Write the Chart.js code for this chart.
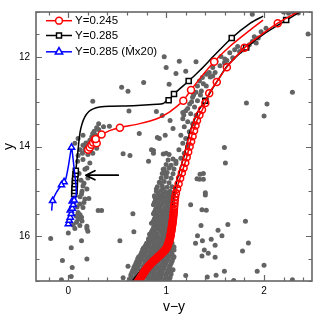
<!DOCTYPE html>
<html><head><meta charset="utf-8">
<script src="https://cdn.jsdelivr.net/npm/chart.js@4.4.0/dist/chart.umd.min.js"></script>
<style>html,body{margin:0;padding:0;background:#fff}#wrap{width:332px;height:320px}</style>
</head><body><div id="wrap"><canvas id="c" width="332" height="320"></canvas></div>
<script>
// ---------- data ----------
const xTicks = [-0.2,0,0.2,0.4,0.6,0.8,1,1.2,1.4,1.6,1.8,2,2.2,2.4];
const xTickLabels = [0,1,2];
const yTicks = [11,11.5,12,12.5,13,13.5,14,14.5,15,15.5,16,16.5,17];
const yTickLabels = [12,14,16];
const legendLabels = ['Y=0.245','Y=0.285','Y=0.285 (\u1E40x20)'];

const obsStars = [
 [0.98,12.0],[0.545,12.68],[0.61,12.77],[0.77,12.57],[0.25,12.99],[0.62,13.21],[0.96,13.31],[0.90,13.22],
 [0.31,13.49],[0.36,13.56],[0.42,13.55],[0.29,13.58],[0.265,13.66],[0.28,13.75],[0.24,13.78],[0.22,13.86],[0.18,13.92],[0.15,13.97],[0.067,13.93],[0.12,14.07],[0.145,14.15],[0.25,14.15],[0.17,14.0],[0.10,14.2],[0.095,14.33],[0.2,14.1],[0.23,14.08],[0.31,13.62],
 [0.725,13.71],[0.91,13.80],[0.99,13.75],[0.87,14.09],[0.97,14.17],[0.63,14.2],[0.82,14.33],[0.56,14.16],
 [0.10,13.82],[0.15,13.75],[0.19,13.93],[0.17,14.07],[0.20,14.18],[0.15,14.29],[0.22,14.37],[0.17,14.51],[0.19,14.48],[0.20,14.70],[0.11,14.6],[0.13,14.75],[0.16,14.82],[0.15,14.88],[0.19,14.95],[0.14,15.0],[0.135,15.06],[0.12,15.12],[0.17,15.17],[0.21,15.16],[0.16,15.25],[0.118,15.28],[0.15,15.36],[0.09,15.35],[0.10,15.47],[0.12,15.52],[0.08,15.55],[0.135,15.58],[0.1,15.62],[0.14,15.66],[0.084,15.69],[0.118,15.76],[0.05,15.75],[0.067,15.83],[0.19,15.83],[0.305,15.43],[0.34,15.43],[0.29,14.04],[0.25,13.71],
 [-0.18,16.05],[0.0,15.93],[-0.07,16.97],[0.03,16.9],[0.04,16.7],[-0.06,16.54],[0.03,16.26],[0.135,16.1],[0.19,16.51],[0.19,15.78],[0.2,15.89],[0.66,15.5],[0.527,16.1],[0.67,15.9],[0.85,15.71],[0.61,16.67],[0.56,16.93],[0.83,16.05],
 [1.04,13.42],[1.17,13.24],[1.07,13.6],[0.93,13.82],[0.85,14.07],[0.87,14.15],[1.0,14.15],[0.97,14.51],[0.99,14.59],[1.0,14.66],[0.94,14.81],[0.97,14.95],[0.90,14.95],[0.955,15.1],[1.04,15.06],[0.885,15.14],[1.346,14.62],[1.38,14.73],[1.4,15.03],
 [0.91,14.9],[0.96,14.88],[1.01,14.91],[1.06,14.9],[0.93,14.8],[0.98,14.78],[1.03,14.81],[0.95,14.7],[1.0,14.68],[1.05,14.71],[0.96,14.6],[1.01,14.58],[1.07,14.61],[0.98,14.5],[1.03,14.48],[1.08,14.5],[1.0,14.4],[1.05,14.42],[1.1,14.38],[1.02,14.3],[1.07,14.28],
 [1.605,14.37],[1.315,14.72],[1.34,14.73],[1.38,14.60],[1.40,15.08],[1.25,15.30],[1.366,15.41],[1.41,15.42],[1.356,15.76],[1.63,15.74],[1.81,15.67],[1.53,15.87],[1.32,15.99],[1.57,15.99],[1.46,16.07],[1.37,16.10],[1.30,16.16],[1.84,16.15],[1.50,16.20],[1.39,16.31],[1.43,16.38],[1.78,16.33],[1.366,16.44],[1.50,16.47],[1.595,16.78],[1.93,16.78],[2.0,16.65],[1.51,16.87],[1.42,16.91],[1.20,16.88],[1.69,16.99],[2.29,16.97],[1.595,14.02],
 [2.2,11.0],[2.25,11.03],[2.3,11.0],[2.35,11.02],[1.88,11.05],[2.45,11.49],[2.02,11.36],[1.97,11.44],[1.94,11.58],[1.90,11.55],[1.88,11.66],[1.85,11.73],[1.92,11.69],[1.73,11.77],[1.70,11.84],[1.75,11.88],[1.65,11.91],[1.68,12.02],[1.56,11.99],[1.595,12.13],[1.51,12.10],[1.476,12.24],[1.44,12.35],[1.41,12.39],[1.476,12.43],[1.37,12.46],[1.34,12.54],[1.32,12.65],[1.41,12.65],[1.36,12.76],[1.305,12.79],[1.27,12.90],[1.32,12.98],[1.24,13.05],[1.29,13.12],[1.20,13.20],[1.25,13.27],[1.305,13.31],[1.17,13.38],[1.22,13.45],[1.27,13.49],[1.185,13.56],[1.236,13.67],[1.15,13.75],[1.20,13.82],[1.17,13.93],[1.22,14.0],[1.13,14.07],[1.185,14.15],[1.03,14.18],[1.15,14.26],[1.10,14.33],[1.134,12.10],[1.305,12.11],[1.10,12.37],[1.20,12.32],[1.03,12.61],[1.0,12.24],[2.29,12.79],[1.82,13.03],[2.03,13.05],[2.0,13.32],
 [1.55,12.2],[1.6,12.05],[1.45,12.45],[1.5,12.35],[1.38,12.6],[1.28,12.85],[1.35,12.85],[1.26,13.0],[1.22,13.15],[1.18,13.3],[1.78,11.85],[1.83,11.78],[1.62,12.08],
 [0.90,15.0],[0.95,14.98],[1.0,15.02],[1.04,15.0],
 [0.92,15.05],[0.97,15.06],[1.02,15.04],[1.06,15.05],
 [0.88,15.1],[0.93,15.12],[0.97,15.08],[1.02,15.11],[1.07,15.09],
 [0.90,15.16],[0.95,15.15],[0.99,15.14],[1.04,15.16],
 [0.89,15.21],[0.94,15.19],[0.99,15.22],[1.03,15.2],
 [0.88,15.25],[0.92,15.26],[0.97,15.24],[1.01,15.26],[1.05,15.25],
 [0.87,15.3],[0.92,15.32],[0.96,15.29],[1.01,15.31],[1.06,15.3],
 [0.90,15.36],[0.94,15.34],[0.99,15.36],[1.03,15.35],
 [0.89,15.41],[0.94,15.39],[0.98,15.42],[1.03,15.4],
 [0.88,15.46],[0.92,15.44],[0.96,15.46],[1.01,15.45],[1.05,15.44],
 [0.87,15.5],[0.91,15.52],[0.96,15.49],[1.0,15.51],[1.05,15.5],
 [0.89,15.56],[0.94,15.54],[0.98,15.56],[1.03,15.55],
 [0.88,15.61],[0.93,15.59],[0.97,15.62],[1.02,15.6],
 [0.87,15.66],[0.91,15.64],[0.95,15.66],[1.0,15.65],[1.04,15.64],
 [0.86,15.7],[0.9,15.72],[0.95,15.69],[0.99,15.71],[1.04,15.7],
 [0.88,15.76],[0.93,15.74],[0.97,15.76],[1.02,15.75],
 [0.87,15.81],[0.92,15.79],[0.96,15.82],[1.01,15.8],[1.06,15.79],
 [0.86,15.86],[0.9,15.84],[0.94,15.86],[0.99,15.85],[1.04,15.84],
 [0.85,15.9],[0.89,15.92],[0.94,15.89],[0.98,15.91],[1.03,15.9],
 [0.83,15.96],[0.87,15.94],[0.91,15.96],[0.96,15.95],[1.0,15.94],[1.05,15.96],
 [0.84,16.01],[0.88,15.99],[0.92,16.02],[0.97,16.0],[1.01,16.01],[1.06,15.99],
 [0.82,16.06],[0.86,16.04],[0.9,16.06],[0.95,16.05],[0.99,16.04],[1.03,16.06],
 [0.82,16.1],[0.86,16.12],[0.9,16.09],[0.95,16.11],[0.99,16.1],[1.04,16.12],
 [0.80,16.16],[0.84,16.14],[0.88,16.16],[0.93,16.15],[0.97,16.14],[1.02,16.16],[1.06,16.15],
 [0.79,16.2],[0.83,16.22],[0.88,16.19],[0.92,16.21],[0.97,16.2],[1.01,16.22],[1.06,16.2],
 [0.77,16.26],[0.81,16.24],[0.86,16.26],[0.9,16.25],[0.95,16.24],[0.99,16.26],[1.04,16.25],[1.08,16.24],
 [0.76,16.3],[0.8,16.32],[0.85,16.29],[0.89,16.31],[0.94,16.3],[0.98,16.32],[1.03,16.3],[1.08,16.31],
 [0.75,16.36],[0.79,16.34],[0.83,16.36],[0.88,16.35],[0.92,16.34],[0.97,16.36],[1.01,16.35],[1.05,16.34],
 [0.74,16.41],[0.78,16.39],[0.83,16.42],[0.87,16.4],[0.92,16.41],[0.96,16.39],[1.01,16.42],[1.06,16.4],
 [0.72,16.46],[0.76,16.44],[0.81,16.46],[0.85,16.45],[0.9,16.44],[0.94,16.46],[0.99,16.45],[1.03,16.44],[1.08,16.46],
 [0.71,16.5],[0.75,16.52],[0.8,16.49],[0.84,16.51],[0.89,16.5],[0.93,16.52],[0.98,16.49],[1.02,16.51],[1.07,16.5],
 [0.70,16.56],[0.74,16.54],[0.79,16.56],[0.83,16.55],[0.88,16.54],[0.92,16.56],[0.97,16.55],[1.01,16.54],[1.06,16.56],
 [0.69,16.61],[0.73,16.59],[0.78,16.62],[0.82,16.6],[0.87,16.61],[0.91,16.59],[0.96,16.62],[1.0,16.6],[1.05,16.61],
 [0.68,16.66],[0.72,16.64],[0.77,16.66],[0.81,16.65],[0.86,16.64],[0.9,16.66],[0.95,16.65],[0.99,16.64],[1.04,16.66],
 [0.67,16.7],[0.71,16.72],[0.76,16.69],[0.8,16.71],[0.85,16.7],[0.89,16.72],[0.94,16.69],[0.98,16.71],[1.03,16.7],
 [0.66,16.76],[0.7,16.74],[0.75,16.76],[0.79,16.75],[0.84,16.74],[0.88,16.76],[0.93,16.75],[0.97,16.74],[1.02,16.76],[1.07,16.75],
 [0.65,16.81],[0.69,16.79],[0.74,16.82],[0.78,16.8],[0.83,16.81],[0.87,16.79],[0.92,16.82],[0.96,16.8],[1.01,16.81],[1.05,16.79],
 [0.64,16.86],[0.69,16.84],[0.73,16.86],[0.78,16.85],[0.82,16.84],[0.87,16.86],[0.91,16.85],[0.96,16.84],[1.0,16.86],[1.05,16.85],
 [0.64,16.9],[0.68,16.92],[0.73,16.89],[0.77,16.91],[0.82,16.9],[0.86,16.92],[0.91,16.89],[0.95,16.91],[1.0,16.9],[1.04,16.92],
 [0.63,16.96],[0.67,16.94],[0.72,16.96],[0.76,16.95],[0.81,16.94],[0.85,16.96],[0.9,16.95],[0.94,16.94],[0.99,16.96],[1.03,16.95],
 [0.63,17.0],[0.67,16.98],[0.72,17.0],[0.76,16.99],[0.81,17.0],[0.85,16.98],[0.9,17.0],[0.94,16.99],[0.99,17.0],[1.03,16.98]
];

// isochrones (Y=0.245 red, Y=0.285 black)
const isoRedLine = [[0.70,17.05],[0.71,17.0],[0.766,16.82],[0.80,16.72],[0.85,16.6],[0.937,16.42],[1.005,16.27],[1.04,16.05],[1.06,15.76],[1.08,15.39],[1.097,15.03],[1.17,14.52],[1.215,14.2],[1.26,13.77],[1.30,13.5],[1.34,13.3],[1.37,13.18],[1.44,12.81],[1.517,12.56],[1.62,12.23],[1.80,11.80],[1.97,11.51],[2.14,11.25],[2.37,10.97],[2.45,10.88]];
const isoRedMarks = [[2.14,11.25],[1.80,11.80],[1.62,12.23],[1.517,12.56],[1.44,12.81],[1.40,13.03],[1.366,13.18],[1.34,13.30],[1.315,13.42],[1.30,13.53],[1.285,13.65],[1.27,13.77],[1.255,13.89],[1.24,14.0],[1.225,14.12],[1.21,14.24],[1.195,14.36],[1.178,14.48],[1.16,14.59],[1.143,14.71],[1.127,14.83],[1.112,14.94],[1.10,15.04],[1.092,15.12],
 [1.088,15.20],[1.085,15.27],[1.082,15.33],[1.08,15.39],[1.078,15.44],[1.076,15.49],[1.074,15.53],[1.072,15.57],[1.070,15.61],[1.068,15.65],[1.066,15.68],[1.064,15.71],[1.062,15.74],[1.06,15.77],[1.058,15.80],[1.056,15.83],[1.054,15.86],[1.052,15.89],[1.049,15.92],[1.047,15.95],[1.045,15.98],[1.042,16.01],[1.040,16.04],[1.036,16.07],[1.032,16.10],[1.028,16.13],[1.023,16.16],[1.018,16.19],[1.013,16.22],[1.008,16.25],[1.003,16.27],[0.996,16.29],[0.988,16.31],[0.980,16.33],[0.971,16.35],[0.962,16.37],[0.953,16.39],[0.944,16.41],[0.934,16.43],[0.924,16.45],[0.914,16.47],[0.904,16.49],[0.894,16.51],[0.884,16.53],[0.874,16.55],[0.864,16.57],[0.855,16.59],[0.846,16.61],[0.837,16.63],[0.829,16.65],[0.821,16.67],[0.813,16.69],[0.805,16.71],[0.798,16.73],[0.791,16.75],[0.785,16.77],[0.779,16.79],[0.773,16.81],[0.767,16.83],[0.761,16.85],[0.755,16.87],[0.749,16.89],[0.743,16.91],[0.737,16.93],[0.731,16.95],[0.725,16.97],[0.719,16.99],[0.713,17.01],[0.707,17.03],[0.701,17.05]];
const isoBlackLine = [[0.645,17.05],[0.655,17.0],[0.72,16.82],[0.77,16.7],[0.834,16.6],[0.92,16.42],[0.988,16.27],[1.02,16.05],[1.045,15.76],[1.06,15.39],[1.08,15.03],[1.14,14.52],[1.185,14.2],[1.23,13.77],[1.27,13.5],[1.31,13.3],[1.335,13.18],[1.40,12.98],[1.47,12.72],[1.54,12.48],[1.63,12.19],[1.82,11.79],[2.0,11.49],[2.23,11.18],[2.42,10.93],[2.5,10.83]];
const isoBlackMarks = [[1.40,12.98],[1.817,11.79],[2.226,11.18]];

// horizontal-branch tracks
const hbRedLine = [[0.203,14.07],[0.22,14.02],[0.237,13.96],[0.254,13.91],[0.27,13.85],[0.30,13.78],[0.34,13.73],[0.43,13.64],[0.527,13.58],[0.73,13.49],[0.905,13.38],[1.04,13.22],[1.14,13.05],[1.175,12.98],[1.254,12.74],[1.346,12.48],[1.49,12.11],[1.65,11.77],[1.86,11.40],[1.99,11.18]];
const hbRedMarks = [[0.203,14.07],[0.22,14.02],[0.237,13.96],[0.254,13.91],[0.27,13.85],[0.29,13.93],[0.28,13.83],[0.34,13.73],[0.527,13.58],[1.175,12.98],[1.254,12.74],[1.49,12.11]];
const hbBlackLine = [[0.06,15.06],[0.063,14.99],[0.063,14.92],[0.067,14.84],[0.067,14.77],[0.07,14.70],[0.074,14.62],[0.077,14.54],[0.088,14.3],[0.10,14.07],[0.118,13.71],[0.14,13.5],[0.169,13.34],[0.21,13.22],[0.254,13.16],[0.32,13.12],[0.425,13.10],[0.663,13.09],[0.905,13.06],[0.97,13.04],[1.005,12.98],[1.025,12.97],[1.08,12.83],[1.23,12.54],[1.346,12.30],[1.50,11.95],[1.67,11.58],[1.86,11.25],[1.99,11.09]];
const hbBlackMarks = [[0.06,15.06],[0.063,14.99],[0.063,14.92],[0.067,14.84],[0.067,14.77],[0.07,14.70],[0.074,14.62],[0.077,14.54],[1.025,12.97],[1.08,12.83],[1.23,12.54],[1.67,11.58]];
const hbBlueLine = [[0.0,15.73],[0.01,15.65],[0.03,15.5],[0.05,15.3],[0.06,15.2],[0.04,15.35],[0.02,15.55],[0.0,15.65],[0.02,15.6],[0.04,15.45],[0.06,15.28],[0.08,15.1],[0.08,14.9],[0.065,14.6],[0.05,14.3],[0.033,14.02],[0.0,14.45],[-0.025,14.72],[-0.043,14.79],[-0.07,14.86],[-0.12,15.02],[-0.16,15.21],[-0.17,15.43]];
const hbBlueMarks = [[0.0,15.73],[0.01,15.65],[0.02,15.58],[0.03,15.5],[0.02,15.42],[0.04,15.38],[0.05,15.3],[0.04,15.22],[0.06,15.2],[0.033,14.02],[-0.043,14.79],[-0.07,14.86],[-0.16,15.21]];

const arrowFrom = [0.51,14.64];
const arrowTo = [0.18,14.64];

// ---------- chart ----------
const FONT = '"Liberation Sans", Arial, Helvetica, sans-serif';
const AXIS = '#666666';
const RED = '#ff0000', BLACK = '#000000', BLUE = '#0000ff', GREY = '#636363';
const xy = a => a.map(p => ({x:p[0], y:p[1]}));
const near = (v, list) => list.some(t => Math.abs(t - v) < 1e-6);

function lineDS(data, color, order, tension){
  return {data: xy(data), showLine:true, borderColor:color, borderWidth:1.5, pointRadius:0,
          tension: tension, fill:false, order: order, clip: 0};
}
function markDS(data, color, style, r, order, fillCol){
  return {data: xy(data), showLine:false, pointStyle:style, pointRadius:r, pointBorderWidth:1.5,
          pointBorderColor:color, pointBackgroundColor:fillCol, order: order, clip: 0};
}

const decor = {
  id:'decor',
  afterDraw(chart){
    const {ctx, chartArea:a, scales:{x, y}} = chart;
    ctx.save();
    ctx.strokeStyle = AXIS; ctx.lineWidth = 1.6;
    ctx.strokeRect(a.left, a.top, a.right - a.left, a.bottom - a.top);
    ctx.lineWidth = 1.2; ctx.beginPath();
    x.ticks.forEach(t => {
      const px = Math.round(x.getPixelForValue(t.value)) + 0.5;
      const L = near(t.value, xTickLabels) ? 6 : 3.5;
      ctx.moveTo(px, a.bottom); ctx.lineTo(px, a.bottom - L);
      ctx.moveTo(px, a.top); ctx.lineTo(px, a.top + L);
    });
    y.ticks.forEach(t => {
      const py = Math.round(y.getPixelForValue(t.value)) + 0.5;
      const L = near(t.value, yTickLabels) ? 6 : 3.5;
      ctx.moveTo(a.left, py); ctx.lineTo(a.left + L, py);
      ctx.moveTo(a.right, py); ctx.lineTo(a.right - L, py);
    });
    ctx.stroke();
    // arrow
    const x0 = x.getPixelForValue(arrowFrom[0]), y0 = y.getPixelForValue(arrowFrom[1]);
    const x1 = x.getPixelForValue(arrowTo[0]), y1 = y.getPixelForValue(arrowTo[1]);
    ctx.strokeStyle = BLACK; ctx.lineWidth = 1.8; ctx.lineCap = 'round'; ctx.lineJoin = 'round';
    ctx.beginPath(); ctx.moveTo(x0, y0); ctx.lineTo(x1, y1);
    ctx.moveTo(x1 + 9, y1 - 4.5); ctx.lineTo(x1, y1); ctx.lineTo(x1 + 9, y1 + 4.5);
    ctx.stroke();
    // legend
    const rows = [
      {c:RED, s:'circle', y:20.7},
      {c:BLACK, s:'rect', y:35.5},
      {c:BLUE, s:'triangle', y:51.8}
    ];
    ctx.lineCap = 'butt'; ctx.lineJoin = 'miter';
    ctx.font = '11.5px ' + FONT; ctx.textBaseline = 'middle'; ctx.textAlign = 'left';
    rows.forEach((r, i) => {
      const mx = a.left + 23;
      ctx.strokeStyle = r.c; ctx.lineWidth = 1.5;
      ctx.beginPath(); ctx.moveTo(a.left + 10, r.y); ctx.lineTo(a.left + 36, r.y); ctx.stroke();
      ctx.fillStyle = '#ffffff';
      ctx.beginPath();
      if (r.s === 'circle') ctx.arc(mx, r.y, 3.4, 0, Math.PI*2);
      else if (r.s === 'rect') ctx.rect(mx - 2.5, r.y - 2.5, 5, 5);
      else { ctx.moveTo(mx, r.y - 4.2); ctx.lineTo(mx + 3.7, r.y + 2.2); ctx.lineTo(mx - 3.7, r.y + 2.2); ctx.closePath(); }
      ctx.fill(); ctx.stroke();
      ctx.fillStyle = '#000'; ctx.fillText(legendLabels[i], a.left + 39, r.y + 0.5);
    });
    ctx.restore();
  }
};

new Chart(document.getElementById('c'), {
  type:'scatter',
  data:{ datasets:[
    {data: xy(obsStars), pointRadius:2.5, pointBorderWidth:0, pointBackgroundColor:GREY, pointBorderColor:GREY, order:20, clip:0},
    lineDS(isoBlackLine, BLACK, 12, 0.3),
    markDS(isoBlackMarks, BLACK, 'rect', 3.6, 11, '#ffffff'),
    lineDS(isoRedLine, RED, 10, 0.3),
    markDS(isoRedMarks, RED, 'circle', 3.5, 9, 'rgba(255,255,255,0)'),
    lineDS(hbBlackLine, BLACK, 8, 0.3),
    markDS(hbBlackMarks, BLACK, 'rect', 3.6, 7, '#ffffff'),
    lineDS(hbRedLine, RED, 6, 0.3),
    markDS(hbRedMarks, RED, 'circle', 3.5, 5, '#ffffff'),
    lineDS(hbBlueLine, BLUE, 4, 0.15),
    markDS(hbBlueMarks, BLUE, 'triangle', 3.6, 3, '#ffffff')
  ]},
  options:{
    responsive:false, animation:false, devicePixelRatio:1, events:[],
    layout:{padding:{top:6, right:20, left:0, bottom:0}},
    plugins:{legend:{display:false}, tooltip:{enabled:false}},
    scales:{
      x:{ type:'linear', position:'bottom', min:-0.33, max:2.49,
          grid:{display:false, drawTicks:false}, border:{display:false},
          afterBuildTicks: s => { s.ticks = xTicks.map(v => ({value:v})); },
          ticks:{ autoSkip:false, maxRotation:0, minRotation:0, padding:4, color:'#000',
                  font:{family:FONT, size:10},
                  callback: v => near(v, xTickLabels) ? String(Math.round(v)) : '' },
          title:{display:true, text:'v\u2212y', color:'#000', font:{family:FONT, size:14}, padding:{top:0, bottom:4}},
          afterFit: s => { s.height = 39; } },
      y:{ type:'linear', position:'left', min:11, max:17, reverse:true,
          grid:{display:false, drawTicks:false}, border:{display:false},
          afterBuildTicks: s => { s.ticks = yTicks.map(v => ({value:v})); },
          ticks:{ autoSkip:false, padding:6, color:'#000', font:{family:FONT, size:10},
                  callback: v => near(v, yTickLabels) ? String(Math.round(v)) : '' },
          title:{display:true, text:'y', color:'#000', font:{family:FONT, size:14}, padding:{top:1, bottom:0}},
          afterFit: s => { s.width = 36; } }
    }
  },
  plugins:[decor]
});
</script>
</body></html>
